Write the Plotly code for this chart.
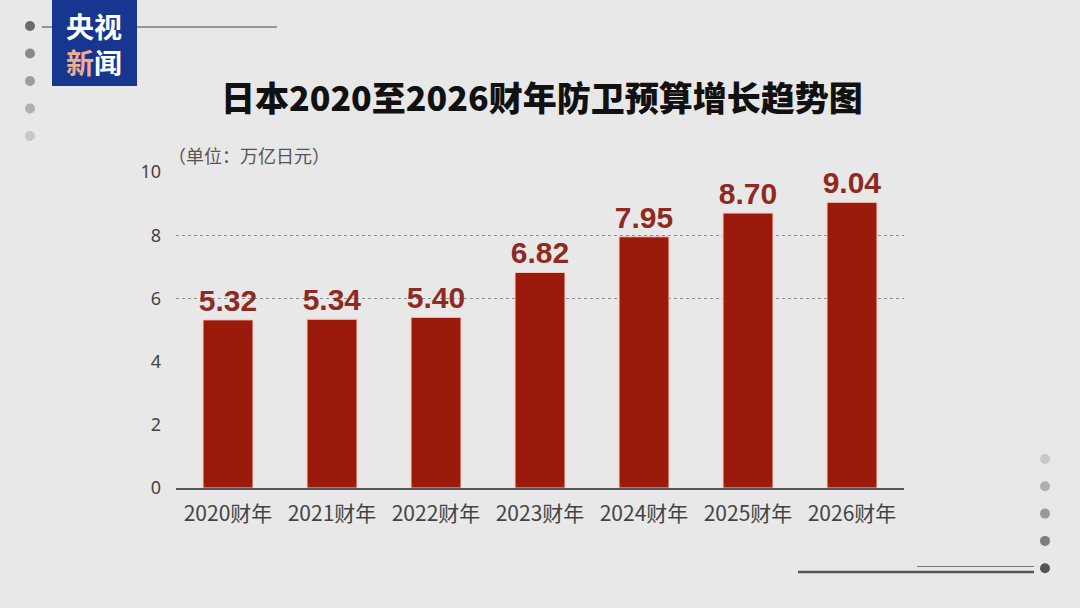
import plotly.graph_objects as go

# 日本防卫预算（万亿日元）
years = [2020, 2021, 2022, 2023, 2024, 2025, 2026]
budget = [5.32, 5.34, 5.40, 6.82, 7.95, 8.70, 9.04]
categories = [f"{y}财年" for y in years]
y_ticks = [0, 2, 4, 6, 8, 10]
grid_ticks = [6, 8, 10]

W, H = 1080, 608
BAR = "#9c1a0b"
LABEL = "#8f2a23"
CJK = "Noto Sans CJK SC"


def px(x):
    return x / W


def py(y):
    return 1 - y / H


fig = go.Figure()

fig.add_trace(go.Bar(x=categories, y=budget,
                     marker=dict(color=BAR, line=dict(color="#f3c9b8", width=1)),
                     width=0.48,
                     texttemplate="%{y:.2f}",
                     textposition="outside",
                     constraintext="none",
                     cliponaxis=False,
                     textfont=dict(family="Liberation Sans", size=30, color=LABEL, weight="bold"),
                     hoverinfo="skip",
                     showlegend=False))

# invisible trace just to carry the grid axis
fig.add_trace(go.Scatter(x=categories, y=budget, mode="none", yaxis="y2",
                         hoverinfo="skip", showlegend=False))

shapes = []
# left decoration: line + dots
shapes.append(dict(type="line", xref="paper", yref="paper",
                   x0=px(42), x1=px(277), y0=py(27), y1=py(27),
                   line=dict(color="#7a7a7a", width=1.5), layer="below"))
left_dot_colors = ["#6b6b6b", "#8a8a8a", "#9d9d9d", "#b0b0b0", "#c8c8c8"]
for i, c in enumerate(left_dot_colors):
    cy = 26 + i * 27.5
    shapes.append(dict(type="circle", xref="paper", yref="paper",
                       x0=px(25), x1=px(35), y0=py(cy + 5), y1=py(cy - 5),
                       fillcolor=c, line=dict(width=0)))
# logo block
shapes.append(dict(type="rect", xref="paper", yref="paper",
                   x0=px(52), x1=px(137), y0=py(86), y1=py(0),
                   fillcolor="#17368f", line=dict(width=0)))
# right-bottom decoration
right_dot_colors = ["#c8c8c8", "#b0b0b0", "#9a9a9a", "#7c7c7c", "#555555"]
for i, c in enumerate(right_dot_colors):
    cy = 459 + i * 27.3
    shapes.append(dict(type="circle", xref="paper", yref="paper",
                       x0=px(1040), x1=px(1050), y0=py(cy + 5), y1=py(cy - 5),
                       fillcolor=c, line=dict(width=0)))
shapes.append(dict(type="line", xref="paper", yref="paper",
                   x0=px(798), x1=px(1034), y0=py(572), y1=py(572),
                   line=dict(color="#555555", width=2.5)))
shapes.append(dict(type="line", xref="paper", yref="paper",
                   x0=px(917), x1=px(1034), y0=py(566.5), y1=py(566.5),
                   line=dict(color="#7a7a7a", width=1.2)))

annotations = [
    dict(text="日本2020至2026财年防卫预算增长趋势图", x=px(542), y=py(97),
         xref="paper", yref="paper", showarrow=False, xanchor="center", yanchor="middle",
         font=dict(family=CJK, size=34, color="#111111", weight=900)),
    dict(text="（单位：万亿日元）", x=px(166), y=py(155),
         xref="paper", yref="paper", showarrow=False, xanchor="left", yanchor="middle",
         font=dict(family=CJK, size=18, color="#555555")),
    dict(text="央视<br><span style='color:#eeae90'>新</span>闻", x=px(94), y=py(44),
         xref="paper", yref="paper", showarrow=False, xanchor="center", yanchor="middle",
         font=dict(family=CJK, size=28, color="white", weight="bold")),
]

fig.update_layout(
    width=W, height=H,
    margin=dict(l=0, r=0, t=0, b=0, pad=0, autoexpand=False),
    paper_bgcolor="#e8e8e8",
    plot_bgcolor="rgba(0,0,0,0)",
    shapes=shapes,
    annotations=annotations,
    xaxis=dict(domain=[px(176), px(904)], showline=True, linecolor="#555555", linewidth=2,
               ticks="", showgrid=False, zeroline=False, automargin=False,
               tickfont=dict(family=CJK, size=21, color="#444444"), ticklabelstandoff=6),
    yaxis=dict(domain=[py(488), py(172)], range=[0, 10], tickvals=y_ticks,
               showgrid=False, zeroline=False, showline=False, ticks="",
               ticklabelstandoff=14, automargin=False,
               tickfont=dict(family="Noto Sans", size=18, color="#444444")),
    yaxis2=dict(overlaying="y", range=[0, 10], tickvals=grid_ticks, showticklabels=False,
                showgrid=True, gridcolor="#8f8f8f", griddash="dot", gridwidth=1,
                zeroline=False, showline=False, ticks="", automargin=False),
)

fig.write_html("out.html", config={"displayModeBar": False},
               post_script="document.body.style.margin='0';document.body.style.overflow='hidden';")
